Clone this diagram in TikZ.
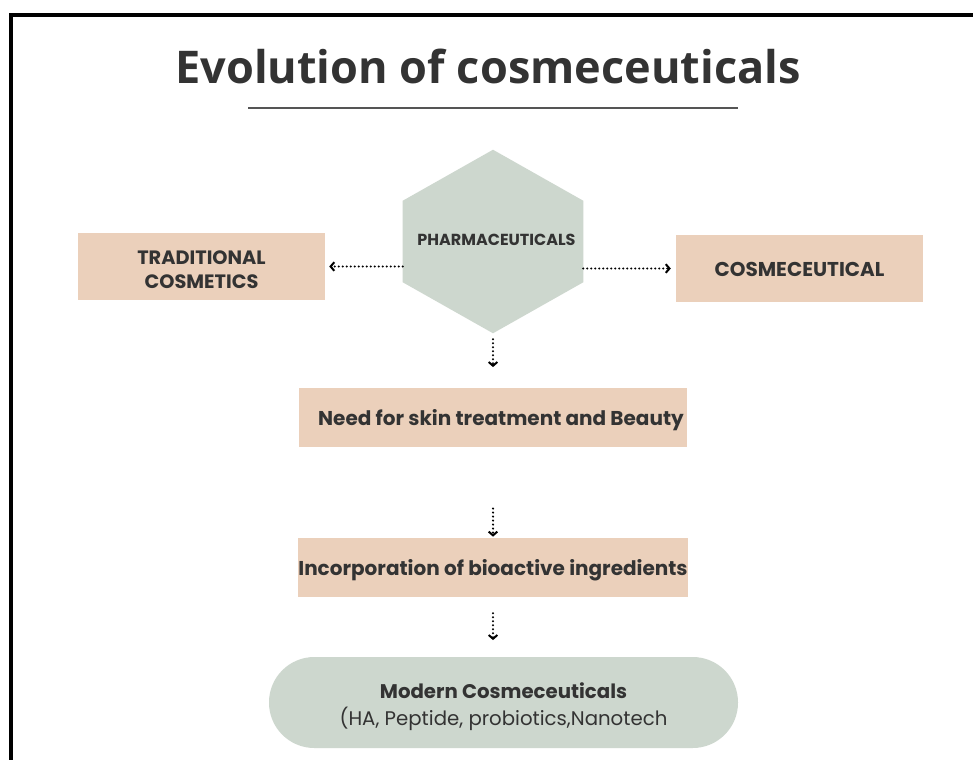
\documentclass[tikz,border=0pt]{standalone}
\usepackage{fontspec}
\setmainfont{Poppins}
\newfontfamily\titlefont{Open Sans}
\usetikzlibrary{arrows.meta,calc}
\definecolor{peach}{HTML}{EBD0BB}
\definecolor{sage}{HTML}{CDD7CE}
\definecolor{ink}{HTML}{333333}
\definecolor{rule}{HTML}{555555}
% drop a label a little below its natural centre
\newcommand{\dropby}[2]{\raisebox{-#1}[\height][\depth]{#2}}
\begin{document}
\begin{tikzpicture}[x=0.75pt,y=-0.75pt,
  peachbox/.style={fill=peach,draw=none,inner sep=0pt,align=center,text=ink,
    font=\bfseries\fontsize{15}{18}\selectfont},
  flow/.style={line width=1.7pt,line cap=round,dash pattern=on 0pt off 3pt,
    -{Straight Barb[length=2.8pt,width=6.5pt,line width=1.5pt]}}]
  \useasboundingbox (0,0) rectangle (973,760);
  \fill[white] (0,0) rectangle (973,760);
  % frame
  \draw[line width=2.3pt] (973,15) -- (11,15) -- (11,760);
  % title and rule
  \node[anchor=base,text=ink,inner sep=0pt] (title) at (488,83)
    {\titlefont\bfseries\fontsize{33.8}{40}\selectfont Evolution of cosmeceuticals};
  \draw[rule,line width=1.5pt] (248,108) -- (738,108);
  % central hexagon
  \node[minimum width=135pt,minimum height=137.25pt,inner sep=0pt] (pharma) at (493,241.5) {};
  \fill[sage] (pharma.north) -- ($(pharma.north east)+(0,51)$) -- ($(pharma.south east)+(0,-51)$)
    -- (pharma.south) -- ($(pharma.south west)+(0,-51)$) -- ($(pharma.north west)+(0,51)$) -- cycle;
  \node[text=ink,inner sep=0pt,font=\bfseries\fontsize{12}{14}\selectfont] (pharmalabel) at (496.5,240) {PHARMACEUTICALS};
  % side boxes
  \node[peachbox,minimum width=185.25pt,minimum height=50.25pt] (trad) at (201.5,266.5)
    {\fontsize{14.5}{18}\selectfont\dropby{3.6pt}{\begin{tabular}{@{}c@{}}TRADITIONAL\\COSMETICS\end{tabular}}};
  \node[peachbox,minimum width=185.25pt,minimum height=50.25pt] (cosm) at (799.5,268.5)
    {\dropby{1pt}{COSMECEUTICAL}};
  % vertical chain
  \node[peachbox,minimum width=291pt,minimum height=44.25pt] (need) at (493,417.5)
    {\dropby{2.2pt}{\hspace*{12pt}Need for skin treatment and Beauty}};
  \node[peachbox,minimum width=291pt,minimum height=44.25pt] (inc) at (493,567.5)
    {\dropby{2.2pt}{Incorporation of bioactive ingredients}};
  \node[fill=sage,rounded corners=34pt,minimum width=351.75pt,minimum height=68.25pt,
    inner sep=0pt,text=ink,font=\fontsize{14.8}{20}\selectfont] (modern) at (503.5,702.5)
    {\dropby{3pt}{\begin{tabular}{@{}c@{}}\textbf{Modern Cosmeceuticals}\\(HA, Peptide, probiotics,Nanotech\end{tabular}}};
  % connectors
  \draw[flow,shorten >=3pt] (pharma.west |- trad.east) -- (trad.east);
  \draw[flow,shorten >=3.7pt] (pharma.east |- cosm.west) -- (cosm.west);
  \draw[flow,shorten <=4.5pt,shorten >=15.5pt] (pharma.south) -- (need.north);
  \draw[flow,shorten <=46pt,shorten >=0.8pt] (need.south) -- (inc.north);
  \draw[flow,shorten <=12pt,shorten >=12.5pt] (inc.south) -- (inc.south |- modern.north);
\end{tikzpicture}
\end{document}
